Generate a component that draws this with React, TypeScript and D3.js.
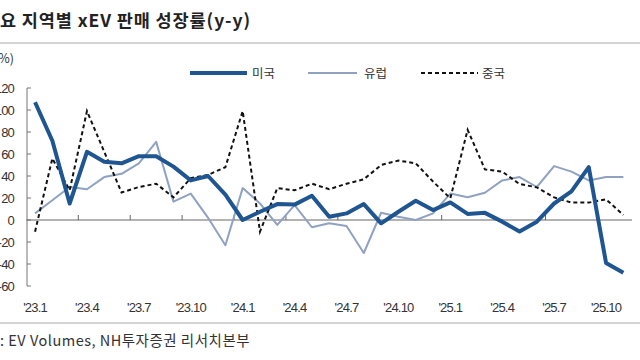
import React from "react";
import * as d3 from "d3";

const months = [
  "23.1","23.2","23.3","23.4","23.5","23.6","23.7","23.8","23.9","23.10","23.11","23.12",
  "24.1","24.2","24.3","24.4","24.5","24.6","24.7","24.8","24.9","24.10","24.11","24.12",
  "25.1","25.2","25.3","25.4","25.5","25.6","25.7","25.8","25.9","25.10","25.11",
];
const usa = [107, 72, 15, 62, 53, 51.5, 58, 58, 48.5, 36, 40, 23, 0, 7.5, 14.5, 14, 22, 3, 6, 14.5, -3, 7.5, 17.5, 9, 16, 5.5, 6.5, -1.5, -10.5, -1.5, 15, 26, 48, -39, -48];
const europe = [6, 18, 30, 28, 39, 42, 51.5, 71, 16.7, 24, 2, -23, 29, 15, -4.5, 13.6, -6.6, -3, -5.5, -30, 6.6, 3, 0, 6, 24, 20.6, 24.8, 36, 39, 30, 49, 44, 36, 39, 39];
const china = [-10.6, 56, 27, 99, 62, 25, 30, 33, 20.6, 38, 41, 48, 99, -10.6, 29, 27, 33, 28, 33, 37, 50, 54, 51.5, 35, 19.7, 82, 46, 44, 32.7, 29.7, 20.6, 15.8, 15.8, 18.8, 4.5];
const yTicks = [120, 100, 80, 60, 40, 20, 0, -20, -40, -60];
const xLabelMonths = ["23.1","23.4","23.7","23.10","24.1","24.4","24.7","24.10","25.1","25.4","25.7","25.10"];
const seriesNames = ["미국", "유럽", "중국"];

const W = 640, H = 360;
const FONT = "'Noto Sans CJK KR', 'Noto Sans', sans-serif";
const NUMFONT = "'Liberation Sans', 'DejaVu Sans', sans-serif";

export default function App() {
  const x = d3.scaleBand<string>().domain(months).range([26.4, 632]).paddingInner(0).paddingOuter(0);
  const bw = x.bandwidth();
  const cx = (m: string) => (x(m) as number) + bw / 2;
  const y = d3.scaleLinear().domain([-60, 120]).range([286, 88]);

  const line = d3.line<number>().x((_, i) => cx(months[i])).y((v) => y(v));

  const tickBounds = months
    .map((m, i) => ({ m, i }))
    .filter((d) => d.i % 3 === 2 && d.i < months.length - 1)
    .map((d) => (x(d.m) as number) + bw);

  return (
    <div style={{ position: "absolute", left: 0, top: 0 }}>
      <svg width={W} height={H} style={{ display: "block", background: "#fff" }}>
        <text x={0} y={27} fontFamily={FONT} fontSize={17.5} fontWeight={700} fill="#222" letterSpacing={0.9}>
          요 지역별 xEV 판매 성장률(y-y)
        </text>
        <line x1={0} x2={W} y1={43} y2={43} stroke="#d4d4d4" strokeWidth={2} />

        <text x={14} y={63} textAnchor="end" fontFamily={FONT} fontSize={12.5} fill="#333">(%)</text>

        {/* legend */}
        <line x1={190} x2={247} y1={73} y2={73} stroke="#1f5591" strokeWidth={4} />
        <text x={252} y={77.5} fontFamily={FONT} fontSize={12.5} fill="#333">{seriesNames[0]}</text>
        <line x1={308} x2={357} y1={73} y2={73} stroke="#8fa2c2" strokeWidth={2} />
        <text x={364} y={77.5} fontFamily={FONT} fontSize={12.5} fill="#333">{seriesNames[1]}</text>
        <line x1={421} x2={478} y1={73} y2={73} stroke="#111" strokeWidth={2} strokeDasharray="4,3" />
        <text x={482} y={77.5} fontFamily={FONT} fontSize={12.5} fill="#333">{seriesNames[2]}</text>

        {/* y axis */}
        <line x1={27} x2={27} y1={y(120)} y2={y(-60)} stroke="#777" strokeWidth={1} />
        {yTicks.map((t) => (
          <g key={t}>
            <line x1={27} x2={31} y1={y(t)} y2={y(t)} stroke="#777" strokeWidth={1} />
            <text x={14} y={y(t) + 4.5} textAnchor="end" fontFamily={NUMFONT} fontSize={13} fill="#333" letterSpacing={-0.8}>
              {t}
            </text>
          </g>
        ))}

        {/* x axis at zero */}
        <line x1={26.4} x2={632} y1={y(0)} y2={y(0)} stroke="#666" strokeWidth={1} />
        {tickBounds.map((b, i) => (
          <line key={i} x1={b} x2={b} y1={y(0)} y2={y(0) - 5} stroke="#666" strokeWidth={1} />
        ))}
        {xLabelMonths.map((m) => (
          <text key={m} x={cx(m)} y={312} textAnchor="middle" fontFamily={NUMFONT} fontSize={13} fill="#333" letterSpacing={-0.8}>
            {"'" + m}
          </text>
        ))}

        {/* series */}
        <path d={line(europe) || ""} fill="none" stroke="#8fa2c2" strokeWidth={2} strokeLinejoin="round" />
        <path d={line(china) || ""} fill="none" stroke="#111" strokeWidth={2} strokeDasharray="4,3" />
        <path d={line(usa) || ""} fill="none" stroke="#1f5591" strokeWidth={4} strokeLinejoin="round" />

        <line x1={0} x2={W} y1={323} y2={323} stroke="#d4d4d4" strokeWidth={2} />
        <text x={0} y={346} fontFamily={FONT} fontSize={14.5} fill="#333" letterSpacing={0.5}>
          : EV Volumes, NH투자증권 리서치본부
        </text>
      </svg>
    </div>
  );
}
